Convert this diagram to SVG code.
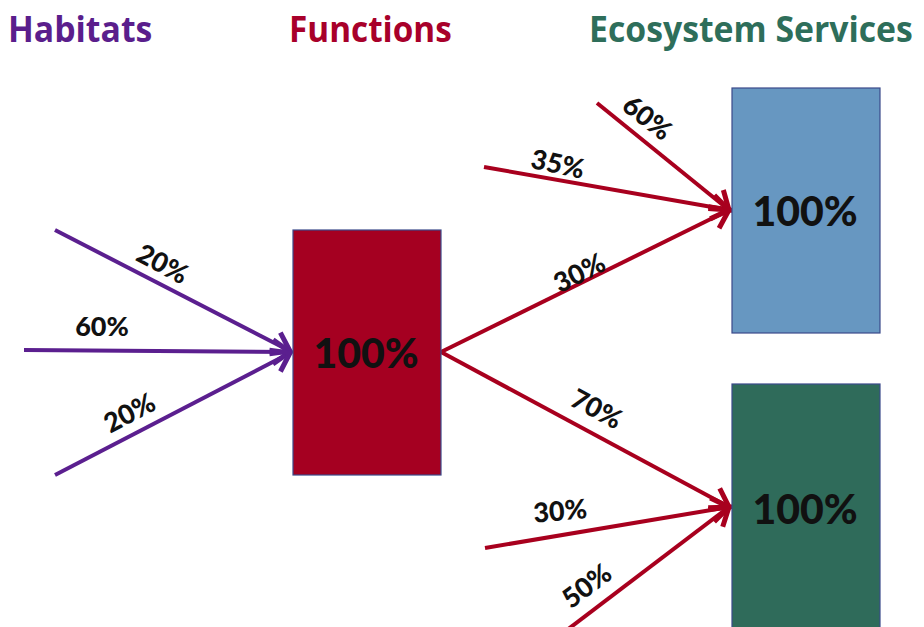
<svg xmlns="http://www.w3.org/2000/svg" width="924" height="627" viewBox="0 0 924 627">
<style>
.h{font-family:"Open Sans",Lato,"Liberation Sans",sans-serif;font-weight:bold;font-size:36px}
.lbl{font-family:Lato,"Open Sans","Liberation Sans",sans-serif;font-weight:900;font-size:27px;fill:#111;text-anchor:middle;dominant-baseline:central}
.big{font-family:Lato,"Open Sans","Liberation Sans",sans-serif;font-weight:900;font-size:41px;fill:#111;text-anchor:middle;dominant-baseline:central}
.box{stroke:#3b4a8a;stroke-width:1.2}
.pl{stroke:#5B1F8F;stroke-width:4;fill:none}
.rl{stroke:#A8001E;stroke-width:4;fill:none}
</style>
<defs>
<marker id="ap" markerUnits="userSpaceOnUse" markerWidth="34" markerHeight="34" viewBox="-24 -17 28 34" refX="0" refY="0" orient="auto">
<path d="M-17,-12 L0,0 L-17,12" fill="none" stroke="#5B1F8F" stroke-width="5" stroke-linejoin="miter"/>
</marker>
<marker id="ar" markerUnits="userSpaceOnUse" markerWidth="34" markerHeight="34" viewBox="-24 -17 28 34" refX="0" refY="0" orient="auto">
<path d="M-17,-12 L0,0 L-17,12" fill="none" stroke="#A8001E" stroke-width="5" stroke-linejoin="miter"/>
</marker>
</defs>
<rect width="924" height="627" fill="#fff"/>
<g id="headings">
<text class="h" transform="translate(8,42) scale(0.88,1)" fill="#5A1E8C" textLength="164" lengthAdjust="spacingAndGlyphs">Habitats</text>
<text class="h" transform="translate(289,42) scale(0.88,1)" fill="#A8002A" textLength="185" lengthAdjust="spacingAndGlyphs">Functions</text>
<text class="h" transform="translate(589,42) scale(0.88,1)" fill="#2E6E5A" textLength="368" lengthAdjust="spacingAndGlyphs">Ecosystem Services</text>
</g>
<g id="connectors">
<line class="pl" x1="55" y1="230" x2="290" y2="351" marker-end="url(#ap)"/>
<line class="pl" x1="24" y1="350" x2="290" y2="352" marker-end="url(#ap)"/>
<line class="pl" x1="55" y1="475" x2="290" y2="353" marker-end="url(#ap)"/>
<line class="rl" x1="441" y1="352" x2="729" y2="210" marker-end="url(#ar)"/>
<line class="rl" x1="441" y1="352" x2="729" y2="507" marker-end="url(#ar)"/>
<line class="rl" x1="597" y1="103" x2="729" y2="210" marker-end="url(#ar)"/>
<line class="rl" x1="484" y1="167" x2="729" y2="210" marker-end="url(#ar)"/>
<line class="rl" x1="485" y1="548" x2="729" y2="507" marker-end="url(#ar)"/>
<line class="rl" x1="567" y1="630" x2="729" y2="507" marker-end="url(#ar)"/>
<text class="lbl" transform="translate(163,263) rotate(28)">20%</text>
<text class="lbl" x="102" y="325">60%</text>
<text class="lbl" transform="translate(129,412) rotate(-28)">20%</text>
<text class="lbl" transform="translate(648,117) rotate(38)">60%</text>
<text class="lbl" transform="translate(558,163) rotate(12)">35%</text>
<text class="lbl" transform="translate(579,272) rotate(-27)">30%</text>
<text class="lbl" transform="translate(597,408) rotate(28)">70%</text>
<text class="lbl" transform="translate(560,510) rotate(-5)">30%</text>
<text class="lbl" transform="translate(586,585) rotate(-37)">50%</text>
</g>
<g id="functions">
<rect class="box" x="293" y="230" width="148" height="245" fill="#A50021"/>
<text class="big" x="366" y="352">100%</text>
</g>
<g id="service1">
<rect class="box" x="732" y="88" width="148" height="245" fill="#6797C1"/>
<text class="big" x="805" y="210">100%</text>
</g>
<g id="service2">
<rect class="box" x="732" y="384" width="148" height="250" fill="#2F6B5A"/>
<text class="big" x="805" y="508">100%</text>
</g>
</svg>
